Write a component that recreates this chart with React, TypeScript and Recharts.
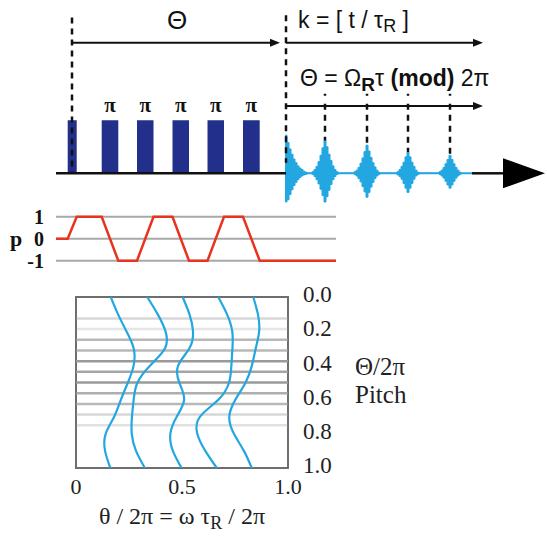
import React from 'react';
import {
  ComposedChart, Area, Line, XAxis, YAxis, CartesianGrid,
  ReferenceLine, ReferenceDot, ReferenceArea,
} from 'recharts';

const SANS = '"Liberation Sans", Arial, sans-serif';
const SERIF = '"Liberation Serif", "Times New Roman", serif';
const NAVY = '#22308c';
const CYAN = '#23a7e1';
const RED = '#e8341f';

// pulse train (time axis in arbitrary units)
const pulseStart = [1.17, 4.57, 8.1, 11.65, 15.15, 18.7];
const pulseEnd = [2.07, 6.23, 9.75, 13.3, 16.8, 20.37];
const pulseLabel = ['', 'π', 'π', 'π', 'π', 'π'];

// recoupled echoes, envelope samples: [time, upper, lower]
const echo1 = [[22.9, 0, 0], [23.0, 0.72, 0.54], [23.2, 0.58, 0.5], [23.4, 0.46, 0.4], [23.6, 0.36, 0.31], [23.8, 0.27, 0.23], [24.0, 0.2, 0.17], [24.2, 0.14, 0.12], [24.4, 0.1, 0.08], [24.6, 0.07, 0.05], [24.8, 0.04, 0.03], [25.0, 0.02, 0.02], [25.2, 0, 0]];
const echo2 = [[25.5, 0, 0], [25.7, 0.03, 0.02], [25.9, 0.07, 0.06], [26.1, 0.13, 0.12], [26.3, 0.22, 0.2], [26.5, 0.34, 0.3], [26.7, 0.48, 0.42], [26.9, 0.62, 0.54], [27.1, 0.5, 0.44], [27.3, 0.36, 0.32], [27.5, 0.24, 0.21], [27.7, 0.14, 0.12], [27.9, 0.07, 0.06], [28.1, 0.03, 0.02], [28.3, 0, 0]];
const echo3 = [[29.7, 0, 0], [29.9, 0.03, 0.02], [30.1, 0.06, 0.05], [30.3, 0.11, 0.1], [30.5, 0.19, 0.16], [30.7, 0.29, 0.25], [30.9, 0.41, 0.35], [31.1, 0.53, 0.45], [31.3, 0.42, 0.36], [31.5, 0.3, 0.26], [31.7, 0.2, 0.17], [31.9, 0.12, 0.1], [32.1, 0.06, 0.05], [32.3, 0.02, 0.02], [32.5, 0, 0]];
const echo4 = [[34.0, 0, 0], [34.2, 0.03, 0.03], [34.4, 0.07, 0.06], [34.6, 0.13, 0.11], [34.8, 0.21, 0.19], [35.0, 0.31, 0.28], [35.2, 0.4, 0.36], [35.4, 0.31, 0.28], [35.6, 0.21, 0.19], [35.8, 0.13, 0.11], [36.0, 0.06, 0.05], [36.2, 0.02, 0.02], [36.4, 0, 0]];
const echo5 = [[38.2, 0, 0], [38.4, 0.03, 0.02], [38.6, 0.06, 0.05], [38.8, 0.11, 0.09], [39.0, 0.18, 0.15], [39.2, 0.26, 0.22], [39.4, 0.34, 0.28], [39.6, 0.26, 0.22], [39.8, 0.18, 0.15], [40.0, 0.11, 0.09], [40.2, 0.06, 0.05], [40.4, 0.02, 0.02], [40.6, 0, 0]];
const echoCentre = [26.9, 31.1, 35.2, 39.4];
const echoPeak = [0.62, 0.53, 0.4, 0.34];

// sign of the phase p
const pTime = [0, 1.17, 2.07, 4.57, 6.23, 8.1, 9.75, 11.65, 13.3, 15.15, 16.8, 18.7, 20.37, 28];
const pValue = [0, 0, 1, 1, -1, -1, 1, 1, -1, -1, 1, 1, -1, -1];

// pitch map: Θ/2π down the side, θ/2π across
const pitch = [0, 0.1, 0.2, 0.3, 0.4, 0.5, 0.6, 0.7, 0.8, 0.9, 1.0];
const curve1 = [0.164, 0.198, 0.238, 0.272, 0.272, 0.245, 0.212, 0.18, 0.14, 0.137, 0.162];
const curve2 = [0.336, 0.385, 0.422, 0.42, 0.35, 0.29, 0.272, 0.264, 0.263, 0.283, 0.325];
const curve3 = [0.503, 0.535, 0.552, 0.535, 0.482, 0.487, 0.51, 0.475, 0.445, 0.457, 0.498];
const curve4 = [0.671, 0.712, 0.737, 0.738, 0.733, 0.722, 0.672, 0.585, 0.572, 0.61, 0.664];
const curve5 = [0.836, 0.858, 0.864, 0.848, 0.83, 0.8, 0.752, 0.723, 0.745, 0.792, 0.829];
const pitchLines = [0.125, 0.1875, 0.25, 0.3125, 0.375, 0.4375, 0.5, 0.5625, 0.625, 0.6875, 0.75];
const pitchWeights = [0.4, 0.25, 0.7, 0.7, 1, 0.9, 1, 0.8, 0.7, 0.4, 0.3];
const xTicks = [0, 0.5, 1];
const yTicks = [0, 0.2, 0.4, 0.6, 0.8, 1];

const topData: any[] = [{ t: 0, pulse: 0 }];
pulseStart.forEach((s, i) => {
  topData.push({ t: s, pulse: 1 });
  topData.push({ t: pulseEnd[i], pulse: 0 });
});
[echo1, echo2, echo3, echo4, echo5].forEach(e =>
  e.forEach(([t, up, lo]) => topData.push({ t, echo: [-lo, up] })));

const pData = pTime.map((t, i) => ({ t, p: pValue[i] }));
const pitchData = pitch.map((t, i) => ({
  t, c1: curve1[i], c2: curve2[i], c3: curve3[i], c4: curve4[i], c5: curve5[i],
}));

const Arrow = (props: any) => {
  const { x1, y1, x2, y2 } = props;
  return (
    <g>
      <line x1={x1} y1={y1} x2={x2 - 6} y2={y2} stroke="#111" strokeWidth={2} />
      <polygon points={`${x2},${y2} ${x2 - 10},${y2 - 4} ${x2 - 10},${y2 + 4}`} fill="#111" />
    </g>
  );
};

const BigHead = (props: any) => {
  const { x1, y1, x2 } = props;
  return <polygon points={`${x2},${y1} ${x1},${y1 - 15} ${x1},${y1 + 15}`} fill="#000" />;
};

const ThetaTop = (p: any) => (
  <text x={p.cx} y={p.cy} textAnchor="middle" dominantBaseline="central" fontFamily={SANS} fontSize={26} fill="#111">Θ</text>
);

const KText = (p: any) => (
  <text x={p.cx} y={p.cy} dominantBaseline="central" fontFamily={SANS} fontSize={23} fill="#111">
    k = [ t / τ<tspan dy={6} fontSize={18}>R</tspan><tspan dy={-6}> ]</tspan>
  </text>
);

const ModText = (p: any) => (
  <text x={p.cx} y={p.cy} dominantBaseline="central" fontFamily={SANS} fontSize={23} fill="#111">
    Θ = Ω<tspan dy={6} fontSize={19} fontWeight="bold">R</tspan>
    <tspan dy={-6}>τ </tspan><tspan fontWeight="bold">(mod)</tspan> 2π
  </text>
);

const PiText = (label: string) => (p: any) => (
  <text x={p.cx} y={p.cy} textAnchor="middle" dominantBaseline="central" fontFamily={SERIF} fontWeight="bold" fontSize={21} fill="#111">{label}</text>
);

export default function App() {
  return (
    <div style={{ position: 'absolute', left: 0, top: 0, width: 547, height: 536, background: '#fff', overflow: 'hidden' }}>
      {/* pulse sequence and echoes */}
      <div style={{ position: 'absolute', left: 0, top: 0 }}>
        <ComposedChart width={547} height={212} data={topData} margin={{ top: 0, right: 1, bottom: 0, left: 56 }}>
          <XAxis type="number" dataKey="t" domain={[0, 49]} hide />
          <YAxis type="number" domain={[-0.73, 3.27]} hide allowDataOverflow />
          <Area type="stepAfter" dataKey="pulse" stroke="none" fill={NAVY} fillOpacity={1} isAnimationActive={false} />
          <ReferenceLine segment={[{ x: 0, y: 0 }, { x: 23, y: 0 }]} stroke="#111" strokeWidth={2.5} />
          <ReferenceLine segment={[{ x: 41.6, y: 0 }, { x: 44.8, y: 0 }]} stroke="#111" strokeWidth={2.5} />
          <ReferenceLine segment={[{ x: 44.7, y: 0 }, { x: 48.9, y: 0 }]} shape={BigHead} />
          <ReferenceLine segment={[{ x: 23, y: 0 }, { x: 41.6, y: 0 }]} stroke={CYAN} strokeWidth={2} />
          <Area type="step" dataKey="echo" stroke={CYAN} strokeWidth={1} fill={CYAN} fillOpacity={1} isAnimationActive={false} />
          <ReferenceLine segment={[{ x: 1.6, y: 2.94 }, { x: 1.6, y: 0 }]} stroke="#111" strokeWidth={2.5} strokeDasharray="6 5" />
          <ReferenceLine segment={[{ x: 23, y: 2.98 }, { x: 23, y: 0.2 }]} stroke="#111" strokeWidth={2.5} strokeDasharray="6 5" />
          {echoCentre.map((c, i) => (
            <ReferenceLine key={c} segment={[{ x: c, y: 1.5 }, { x: c, y: echoPeak[i] }]} stroke="#111" strokeWidth={2.5} strokeDasharray="2 8 6 5 6 5 6 5 6 5 6 5 6 5" />
          ))}
          <ReferenceLine segment={[{ x: 1.6, y: 2.464 }, { x: 22.4, y: 2.464 }]} shape={Arrow} />
          <ReferenceLine segment={[{ x: 23, y: 2.464 }, { x: 42.7, y: 2.464 }]} shape={Arrow} />
          <ReferenceLine segment={[{ x: 23, y: 1.27 }, { x: 42.7, y: 1.27 }]} shape={Arrow} />
          <ReferenceDot x={12.1} y={2.89} r={0} shape={ThetaTop} />
          <ReferenceDot x={24.2} y={2.89} r={0} shape={KText} />
          <ReferenceDot x={24.4} y={1.8} r={0} shape={ModText} />
          {pulseStart.map((s, i) => pulseLabel[i] ? (
            <ReferenceDot key={s} x={(s + pulseEnd[i]) / 2} y={1.29} r={0} shape={PiText(pulseLabel[i])} />
          ) : null)}
        </ComposedChart>
      </div>

      {/* p trace */}
      <div style={{ position: 'absolute', left: 0, top: 200 }}>
        <ComposedChart width={547} height={80} data={pData} margin={{ top: 16.7, right: 211, bottom: 19.3, left: 32 }}>
          <CartesianGrid vertical={false} stroke="#a8a8a8" strokeWidth={2} />
          <XAxis type="number" dataKey="t" domain={[0, 28]} hide />
          <YAxis type="number" domain={[-1, 1]} ticks={[-1, 0, 1]} interval={0} width={24} axisLine={false} tickLine={false} tickMargin={6}
            tick={{ fontFamily: SERIF, fontWeight: 'bold', fontSize: 20, fill: '#111' }}
            label={{ content: (l: any) => (
              <text x={l.viewBox.x - 16} y={l.viewBox.y + l.viewBox.height / 2} textAnchor="middle" dominantBaseline="central"
                fontFamily={SERIF} fontWeight="bold" fontSize={22} fill="#111">p</text>
            ) }} />
          <Line type="linear" dataKey="p" stroke={RED} strokeWidth={2.5} dot={false} isAnimationActive={false} />
        </ComposedChart>
      </div>

      {/* pitch map */}
      <div style={{ position: 'absolute', left: 0, top: 280 }}>
        <ComposedChart layout="vertical" width={547} height={256} data={pitchData} margin={{ top: 17, right: 209, bottom: 38, left: 76 }}>
          <XAxis type="number" domain={[0, 1]} ticks={xTicks} interval={0} axisLine={false} tickLine={false} tickMargin={4}
            tickFormatter={(v: number) => (v === 0 ? '0' : v.toFixed(1))}
            tick={{ fontFamily: SERIF, fontSize: 22, fill: '#222' }}
            label={{ content: (l: any) => (
              <text x={l.viewBox.x + l.viewBox.width / 2} y={l.viewBox.y + 56} textAnchor="middle" fontFamily={SERIF} fontSize={24} fill="#222">
                θ / 2π  = ω τ<tspan dy={5} fontSize={18}>R</tspan><tspan dy={-5}> / 2π</tspan>
              </text>
            ) }} />
          <YAxis type="number" dataKey="t" orientation="right" domain={[0, 1]} ticks={yTicks} interval={0} width={50}
            axisLine={false} tickLine={false} tickMargin={9}
            tickFormatter={(v: number) => v.toFixed(1)}
            tick={{ fontFamily: SERIF, fontSize: 23, fill: '#222', dy: -3 }}
            label={{ content: (l: any) => (
              <text x={l.viewBox.x + 67} fontFamily={SERIF} fontSize={25} fill="#222">
                <tspan x={l.viewBox.x + 67} y={l.viewBox.y + 78}>Θ/2π</tspan>
                <tspan x={l.viewBox.x + 67} y={l.viewBox.y + 106}>Pitch</tspan>
              </text>
            ) }} />
          {pitchLines.map((v, i) => (
            <ReferenceLine key={v} y={v} stroke="#9a9a9a" strokeWidth={2.5} strokeOpacity={pitchWeights[i]} />
          ))}
          <ReferenceArea x1={0} x2={1} y1={0} y2={1} fill="none" stroke="#6e6e6e" strokeWidth={2} fillOpacity={0} />
          {['c1', 'c2', 'c3', 'c4', 'c5'].map(k => (
            <Line key={k} type="natural" dataKey={k} stroke={CYAN} strokeWidth={2.2} dot={false} isAnimationActive={false} />
          ))}
        </ComposedChart>
      </div>
    </div>
  );
}
